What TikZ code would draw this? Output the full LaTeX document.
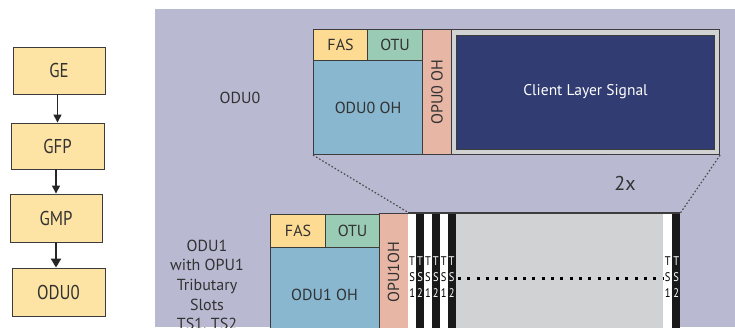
\documentclass[tikz,border=0pt]{standalone}
\usepackage{fontspec}
\setmainfont{PT Sans}
\newfontfamily\condfont[FakeStretch=0.84]{PT Sans}
\usetikzlibrary{arrows.meta}
\definecolor{bgpanel}{RGB}{185,185,210}
\definecolor{leftfill}{RGB}{253,227,164}
\definecolor{fasfill}{RGB}{253,219,147}
\definecolor{otufill}{RGB}{154,203,181}
\definecolor{ohfill}{RGB}{136,183,207}
\definecolor{opufill}{RGB}{232,182,165}
\definecolor{clientgray}{RGB}{209,210,212}
\definecolor{navy}{RGB}{49,61,114}
\definecolor{edgec}{RGB}{60,60,60}
\definecolor{txt}{RGB}{50,50,50}
\tikzset{
  leftbox/.style={draw=edgec, line width=0.9pt, fill=leftfill, inner sep=0pt,
    text=txt, font=\condfont\fontsize{20}{22}\selectfont},
  cell/.style={draw=edgec, line width=1.1pt, inner sep=0pt, anchor=north west,
    text=txt, font=\fontsize{16}{18}\selectfont},
  vcell/.style={cell, rotate=90, anchor=north east},
  lbl/.style={inner sep=0pt, text=txt, font=\fontsize{16}{19.7}\selectfont},
  wstripe/.style={fill=white, inner sep=0pt, anchor=north west, minimum width=7.9pt, minimum height=120pt},
  bstripe/.style={fill=black!90, inner sep=0pt, anchor=north west, minimum width=7.9pt, minimum height=120pt},
  tsw/.style={inner sep=0pt, text=black, font=\condfont\fontsize{12.5}{12}\selectfont},
  tsb/.style={inner sep=0pt, text=white, font=\condfont\fontsize{12.5}{12}\selectfont},
  arr/.style={draw=black!85, line width=1.3pt, -{Triangle[length=8pt,width=8pt]}},
  thickarr/.style={draw=black!85, line width=2.8pt, -{Triangle[length=9pt,width=10pt]}},
  zoomline/.style={draw=black!70, line width=1.2pt, dash pattern=on 1.6pt off 2pt},
  dotline/.style={draw=black, line width=3pt, dash pattern=on 3pt off 6.3pt}
}
\begin{document}
\begin{tikzpicture}[x=1pt,y=-1pt]
\clip (0,0) rectangle (735,327);
\fill[white] (0,0) rectangle (735,327);
% background panel
\fill[bgpanel] (155,9) rectangle (735,327);

% left flow
\node[leftbox, minimum width=92pt, minimum height=47pt] (ge) at (59,70.5) {GE};
\node[leftbox, minimum width=93pt, minimum height=46pt] (gfp) at (57.5,146) {GFP};
\node[leftbox, minimum width=92pt, minimum height=48pt] (gmp) at (56,218) {GMP};
\node[leftbox, minimum width=93pt, minimum height=48pt] (odub) at (58.5,292) {ODU0};
\draw[arr] (ge.south -| gfp.north) -- (gfp.north);
\draw[arr] (gfp.south -| gmp.north) -- (gmp.north);
\draw[thickarr] (gmp.south) -- (gmp.south |- odub.north);

% top frame (ODU0)
\node[lbl] (lblodu0) at (240,98) {ODU0};
\node[cell, fill=fasfill, minimum width=54pt, minimum height=31pt] (fas0) at (313,29) {FAS};
\node[cell, fill=otufill, minimum width=55pt, minimum height=31pt] (otu0) at (367,29) {OTU};
\node[cell, fill=ohfill, minimum width=109pt, minimum height=94pt] (oh0) at (313,60) {ODU0 OH};
\node[vcell, fill=opufill, minimum height=29pt, minimum width=125pt] (opu0) at (422,29) {OPU0 OH};
\node[cell, fill=clientgray, minimum width=268pt, minimum height=125pt] (client) at (451,29) {};
\node[draw=edgec, line width=0.9pt, fill=navy, inner sep=0pt, minimum width=258pt, minimum height=114pt,
  text=white, font=\fontsize{15.5}{18}\selectfont] (cls) at (client.center) {Client Layer Signal};
\node[lbl, font=\fontsize{20}{22}\selectfont] (twox) at (625,183) {2x};

% bottom frame (ODU1)
\node[lbl, align=center, anchor=north] (lblodu1) at (207,239.5) {ODU1\\with OPU1\\Tributary\\Slots\\TS1, TS2};
\node[cell, fill=fasfill, minimum width=55pt, minimum height=33pt] (fas1) at (270,214) {FAS};
\node[cell, fill=otufill, minimum width=54pt, minimum height=33pt] (otu1) at (325,214) {OTU};
\node[cell, fill=ohfill, minimum width=109pt, minimum height=100pt] (oh1) at (270,247) {};
\node[inner sep=0pt, text=txt, font=\fontsize{16}{18}\selectfont] (oh1t) at (324.5,295) {ODU1 OH};
\node[cell, fill=opufill, minimum width=29pt, minimum height=130pt] (opu1) at (379,213) {};
\node[inner sep=0pt, text=txt, rotate=90, font=\fontsize{16}{18}\selectfont] (opu1t) at (393.5,272) {OPU1OH};

\node[wstripe] (s1) at (408,213) {};
\node[bstripe] (s2) at (415.9,213) {};
\node[wstripe] (s3) at (423.8,213) {};
\node[bstripe] (s4) at (431.7,213) {};
\node[wstripe] (s5) at (439.6,213) {};
\node[bstripe] (s6) at (447.5,213) {};
\node[fill=clientgray, inner sep=0pt, anchor=north west, minimum width=207.6pt, minimum height=120pt] (payload) at (455.4,213) {};
\node[wstripe, minimum width=9pt] (s7) at (663,213) {};
\node[bstripe, minimum width=8pt] (s8) at (672,213) {};
\draw[edgec, line width=1.1pt] (s1.north west) -- (s8.north east);

% TS labels
\foreach \s/\st/\d in {s1/tsw/1, s2/tsb/2, s3/tsw/1, s4/tsb/2, s5/tsw/1, s6/tsb/2, s7/tsw/1, s8/tsb/2} {
  \node[\st] at (\s.north |- 0,261) {T};
  \node[\st] at (\s.north |- 0,277) {S};
  \node[\st] at (\s.north |- 0,293) {\d};
}
\coordinate (dl) at (458,278);
\coordinate (dr) at (663,278);
\draw[dotline] (dl) -- (dr);

% zoom lines
\draw[zoomline] (oh0.south west) -- (opu1.north east);
\draw[zoomline] (client.south east) -- (s8.north east);
\end{tikzpicture}
\end{document}
